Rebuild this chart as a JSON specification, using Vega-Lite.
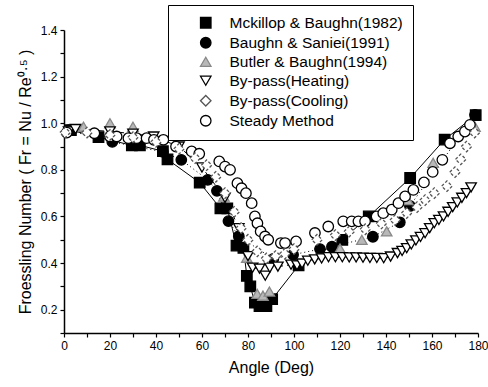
{
  "$schema": "https://vega.github.io/schema/vega-lite/v6.json",
  "width": 414,
  "height": 303,
  "autosize": "none",
  "padding": {"left": 64, "top": 30, "right": 10, "bottom": 54},
  "background": "white",
  "config": {
    "view": {"stroke": null},
    "font": "Liberation Sans",
    "axis": {"grid": false, "domainColor": "black", "tickColor": "black", "labelColor": "black", "titleColor": "black", "labelFont": "Liberation Sans", "titleFont": "Liberation Sans", "titleFontWeight": "normal", "domainWidth": 1.5, "tickWidth": 1.2},
    "legend": {"labelFontSize": 15.5, "labelColor": "black"}
  },
  "datasets": {
    "pts": [
      {"s": "Mckillop & Baughn(1982)", "x": 3, "y": 0.97},
      {"s": "Mckillop & Baughn(1982)", "x": 15, "y": 0.94},
      {"s": "Mckillop & Baughn(1982)", "x": 29.5, "y": 0.905},
      {"s": "Mckillop & Baughn(1982)", "x": 33, "y": 0.905},
      {"s": "Mckillop & Baughn(1982)", "x": 43, "y": 0.88},
      {"s": "Mckillop & Baughn(1982)", "x": 45, "y": 0.845},
      {"s": "Mckillop & Baughn(1982)", "x": 59, "y": 0.745},
      {"s": "Mckillop & Baughn(1982)", "x": 68, "y": 0.635},
      {"s": "Mckillop & Baughn(1982)", "x": 71, "y": 0.635},
      {"s": "Mckillop & Baughn(1982)", "x": 75, "y": 0.475},
      {"s": "Mckillop & Baughn(1982)", "x": 78, "y": 0.465},
      {"s": "Mckillop & Baughn(1982)", "x": 79.5, "y": 0.345},
      {"s": "Mckillop & Baughn(1982)", "x": 81, "y": 0.3},
      {"s": "Mckillop & Baughn(1982)", "x": 83, "y": 0.23},
      {"s": "Mckillop & Baughn(1982)", "x": 85, "y": 0.215},
      {"s": "Mckillop & Baughn(1982)", "x": 88, "y": 0.215},
      {"s": "Mckillop & Baughn(1982)", "x": 90.5, "y": 0.245},
      {"s": "Mckillop & Baughn(1982)", "x": 102, "y": 0.39},
      {"s": "Mckillop & Baughn(1982)", "x": 121, "y": 0.5},
      {"s": "Mckillop & Baughn(1982)", "x": 132.5, "y": 0.6},
      {"s": "Mckillop & Baughn(1982)", "x": 150.5, "y": 0.765},
      {"s": "Mckillop & Baughn(1982)", "x": 165.5, "y": 0.93},
      {"s": "Mckillop & Baughn(1982)", "x": 179, "y": 1.035},

      {"s": "Baughn & Saniei(1991)", "x": 2, "y": 0.97},
      {"s": "Baughn & Saniei(1991)", "x": 21, "y": 0.92},
      {"s": "Baughn & Saniei(1991)", "x": 43, "y": 0.877},
      {"s": "Baughn & Saniei(1991)", "x": 51, "y": 0.843},
      {"s": "Baughn & Saniei(1991)", "x": 62.5, "y": 0.757},
      {"s": "Baughn & Saniei(1991)", "x": 66.5, "y": 0.71},
      {"s": "Baughn & Saniei(1991)", "x": 71.5, "y": 0.58},
      {"s": "Baughn & Saniei(1991)", "x": 76, "y": 0.515},
      {"s": "Baughn & Saniei(1991)", "x": 91, "y": 0.418},
      {"s": "Baughn & Saniei(1991)", "x": 99.6, "y": 0.436},
      {"s": "Baughn & Saniei(1991)", "x": 111.3, "y": 0.46},
      {"s": "Baughn & Saniei(1991)", "x": 116.5, "y": 0.47},
      {"s": "Baughn & Saniei(1991)", "x": 134.3, "y": 0.513},
      {"s": "Baughn & Saniei(1991)", "x": 146, "y": 0.575},
      {"s": "Baughn & Saniei(1991)", "x": 150.4, "y": 0.645},
      {"s": "Baughn & Saniei(1991)", "x": 178.7, "y": 1.036},

      {"s": "Butler & Baughn(1994)", "x": 8.5, "y": 0.985},
      {"s": "Butler & Baughn(1994)", "x": 20, "y": 1.0},
      {"s": "Butler & Baughn(1994)", "x": 30, "y": 0.985},
      {"s": "Butler & Baughn(1994)", "x": 69.5, "y": 0.685},
      {"s": "Butler & Baughn(1994)", "x": 79.5, "y": 0.423},
      {"s": "Butler & Baughn(1994)", "x": 84, "y": 0.268},
      {"s": "Butler & Baughn(1994)", "x": 86.5, "y": 0.26},
      {"s": "Butler & Baughn(1994)", "x": 89.3, "y": 0.278},
      {"s": "Butler & Baughn(1994)", "x": 120, "y": 0.462},
      {"s": "Butler & Baughn(1994)", "x": 129.5, "y": 0.5},
      {"s": "Butler & Baughn(1994)", "x": 140.3, "y": 0.536},
      {"s": "Butler & Baughn(1994)", "x": 149.5, "y": 0.67},
      {"s": "Butler & Baughn(1994)", "x": 160.5, "y": 0.83},
      {"s": "Butler & Baughn(1994)", "x": 178.7, "y": 0.985},

      {"s": "By-pass(Heating)", "x": 2, "y": 0.965},
      {"s": "By-pass(Heating)", "x": 5, "y": 0.975},
      {"s": "By-pass(Heating)", "x": 20, "y": 0.965},
      {"s": "By-pass(Heating)", "x": 30, "y": 0.955},
      {"s": "By-pass(Heating)", "x": 39, "y": 0.943},
      {"s": "By-pass(Heating)", "x": 50, "y": 0.9},
      {"s": "By-pass(Heating)", "x": 60, "y": 0.81},
      {"s": "By-pass(Heating)", "x": 70, "y": 0.68},
      {"s": "By-pass(Heating)", "x": 76, "y": 0.55},
      {"s": "By-pass(Heating)", "x": 80, "y": 0.43},
      {"s": "By-pass(Heating)", "x": 82, "y": 0.38},
      {"s": "By-pass(Heating)", "x": 85, "y": 0.376},
      {"s": "By-pass(Heating)", "x": 87.5, "y": 0.346},
      {"s": "By-pass(Heating)", "x": 89.5, "y": 0.38},
      {"s": "By-pass(Heating)", "x": 93, "y": 0.385},
      {"s": "By-pass(Heating)", "x": 98.7, "y": 0.393},
      {"s": "By-pass(Heating)", "x": 101.3, "y": 0.39},
      {"s": "By-pass(Heating)", "x": 103.5, "y": 0.398},
      {"s": "By-pass(Heating)", "x": 106, "y": 0.41},
      {"s": "By-pass(Heating)", "x": 109, "y": 0.416},
      {"s": "By-pass(Heating)", "x": 112, "y": 0.42},
      {"s": "By-pass(Heating)", "x": 115, "y": 0.425},
      {"s": "By-pass(Heating)", "x": 118, "y": 0.425},
      {"s": "By-pass(Heating)", "x": 121, "y": 0.425},
      {"s": "By-pass(Heating)", "x": 124, "y": 0.424},
      {"s": "By-pass(Heating)", "x": 127, "y": 0.424},
      {"s": "By-pass(Heating)", "x": 130, "y": 0.423},
      {"s": "By-pass(Heating)", "x": 133, "y": 0.422},
      {"s": "By-pass(Heating)", "x": 136, "y": 0.422},
      {"s": "By-pass(Heating)", "x": 139, "y": 0.421},
      {"s": "By-pass(Heating)", "x": 142, "y": 0.428},
      {"s": "By-pass(Heating)", "x": 145, "y": 0.443},
      {"s": "By-pass(Heating)", "x": 147, "y": 0.452},
      {"s": "By-pass(Heating)", "x": 149, "y": 0.464},
      {"s": "By-pass(Heating)", "x": 151, "y": 0.48},
      {"s": "By-pass(Heating)", "x": 153, "y": 0.497},
      {"s": "By-pass(Heating)", "x": 155, "y": 0.512},
      {"s": "By-pass(Heating)", "x": 157, "y": 0.528},
      {"s": "By-pass(Heating)", "x": 159, "y": 0.55},
      {"s": "By-pass(Heating)", "x": 161, "y": 0.571},
      {"s": "By-pass(Heating)", "x": 163, "y": 0.585},
      {"s": "By-pass(Heating)", "x": 165, "y": 0.6},
      {"s": "By-pass(Heating)", "x": 167, "y": 0.62},
      {"s": "By-pass(Heating)", "x": 169, "y": 0.64},
      {"s": "By-pass(Heating)", "x": 171, "y": 0.66},
      {"s": "By-pass(Heating)", "x": 173, "y": 0.68},
      {"s": "By-pass(Heating)", "x": 175, "y": 0.7},
      {"s": "By-pass(Heating)", "x": 177, "y": 0.725},

      {"s": "By-pass(Cooling)", "x": 0.5, "y": 0.96},
      {"s": "By-pass(Cooling)", "x": 10, "y": 0.96},
      {"s": "By-pass(Cooling)", "x": 20, "y": 0.95},
      {"s": "By-pass(Cooling)", "x": 30, "y": 0.94},
      {"s": "By-pass(Cooling)", "x": 40, "y": 0.92},
      {"s": "By-pass(Cooling)", "x": 50, "y": 0.89},
      {"s": "By-pass(Cooling)", "x": 57, "y": 0.85},
      {"s": "By-pass(Cooling)", "x": 62, "y": 0.82},
      {"s": "By-pass(Cooling)", "x": 66, "y": 0.77},
      {"s": "By-pass(Cooling)", "x": 70, "y": 0.7},
      {"s": "By-pass(Cooling)", "x": 74, "y": 0.62},
      {"s": "By-pass(Cooling)", "x": 77, "y": 0.55},
      {"s": "By-pass(Cooling)", "x": 80, "y": 0.5},
      {"s": "By-pass(Cooling)", "x": 84, "y": 0.45},
      {"s": "By-pass(Cooling)", "x": 88, "y": 0.42},
      {"s": "By-pass(Cooling)", "x": 92, "y": 0.43},
      {"s": "By-pass(Cooling)", "x": 96, "y": 0.44},
      {"s": "By-pass(Cooling)", "x": 100, "y": 0.46},
      {"s": "By-pass(Cooling)", "x": 110, "y": 0.5},
      {"s": "By-pass(Cooling)", "x": 118, "y": 0.52},
      {"s": "By-pass(Cooling)", "x": 124, "y": 0.535},
      {"s": "By-pass(Cooling)", "x": 131, "y": 0.545},
      {"s": "By-pass(Cooling)", "x": 138, "y": 0.57},
      {"s": "By-pass(Cooling)", "x": 144, "y": 0.585},
      {"s": "By-pass(Cooling)", "x": 149, "y": 0.615},
      {"s": "By-pass(Cooling)", "x": 153.5, "y": 0.64},
      {"s": "By-pass(Cooling)", "x": 157, "y": 0.67},
      {"s": "By-pass(Cooling)", "x": 161, "y": 0.7},
      {"s": "By-pass(Cooling)", "x": 166.5, "y": 0.73},
      {"s": "By-pass(Cooling)", "x": 170, "y": 0.79},
      {"s": "By-pass(Cooling)", "x": 172.5, "y": 0.845},
      {"s": "By-pass(Cooling)", "x": 175, "y": 0.9},
      {"s": "By-pass(Cooling)", "x": 178.5, "y": 0.96},

      {"s": "Steady Method", "x": 1.2, "y": 0.96},
      {"s": "Steady Method", "x": 13.2, "y": 0.957},
      {"s": "Steady Method", "x": 20, "y": 0.943},
      {"s": "Steady Method", "x": 22.9, "y": 0.943},
      {"s": "Steady Method", "x": 28, "y": 0.936},
      {"s": "Steady Method", "x": 31.6, "y": 0.936},
      {"s": "Steady Method", "x": 35.9, "y": 0.936},
      {"s": "Steady Method", "x": 39.1, "y": 0.929},
      {"s": "Steady Method", "x": 43.2, "y": 0.929},
      {"s": "Steady Method", "x": 48.7, "y": 0.9},
      {"s": "Steady Method", "x": 55.5, "y": 0.879},
      {"s": "Steady Method", "x": 58.8, "y": 0.869},
      {"s": "Steady Method", "x": 67.5, "y": 0.836},
      {"s": "Steady Method", "x": 70, "y": 0.814},
      {"s": "Steady Method", "x": 72.2, "y": 0.8},
      {"s": "Steady Method", "x": 75.4, "y": 0.743},
      {"s": "Steady Method", "x": 77.2, "y": 0.721},
      {"s": "Steady Method", "x": 79.1, "y": 0.7},
      {"s": "Steady Method", "x": 81.6, "y": 0.657},
      {"s": "Steady Method", "x": 83, "y": 0.6},
      {"s": "Steady Method", "x": 84.1, "y": 0.571},
      {"s": "Steady Method", "x": 85.5, "y": 0.536},
      {"s": "Steady Method", "x": 87.4, "y": 0.514},
      {"s": "Steady Method", "x": 88.8, "y": 0.5},
      {"s": "Steady Method", "x": 94.3, "y": 0.486},
      {"s": "Steady Method", "x": 96.1, "y": 0.486},
      {"s": "Steady Method", "x": 100.9, "y": 0.493},
      {"s": "Steady Method", "x": 109.1, "y": 0.529},
      {"s": "Steady Method", "x": 114.9, "y": 0.557},
      {"s": "Steady Method", "x": 121.4, "y": 0.579},
      {"s": "Steady Method", "x": 125.1, "y": 0.579},
      {"s": "Steady Method", "x": 128, "y": 0.579},
      {"s": "Steady Method", "x": 130.9, "y": 0.579},
      {"s": "Steady Method", "x": 135.9, "y": 0.6},
      {"s": "Steady Method", "x": 138.8, "y": 0.614},
      {"s": "Steady Method", "x": 142.5, "y": 0.629},
      {"s": "Steady Method", "x": 145.4, "y": 0.657},
      {"s": "Steady Method", "x": 148.3, "y": 0.686},
      {"s": "Steady Method", "x": 151.9, "y": 0.714},
      {"s": "Steady Method", "x": 156.5, "y": 0.746},
      {"s": "Steady Method", "x": 160.3, "y": 0.791},
      {"s": "Steady Method", "x": 164.5, "y": 0.843},
      {"s": "Steady Method", "x": 167.8, "y": 0.914},
      {"s": "Steady Method", "x": 171.4, "y": 0.943},
      {"s": "Steady Method", "x": 174.3, "y": 0.964},
      {"s": "Steady Method", "x": 176.5, "y": 0.993}
    ]
  },
  "data": {"name": "pts"},
  "encoding": {
    "x": {"field": "x", "type": "quantitative", "scale": {"domain": [0, 180], "nice": false, "zero": false},
      "axis": {"title": "Angle (Deg)", "values": [0,10,20,30,40,50,60,70,80,90,100,110,120,130,140,150,160,170,180], "labelExpr": "datum.value % 20 == 0 ? datum.label : ''", "labelFontSize": 12, "titleFontSize": 16, "tickSize": 4, "labelPadding": 3, "titlePadding": 8, "labelFlush": false}},
    "y": {"field": "y", "type": "quantitative", "scale": {"domain": [0.1, 1.4], "nice": false, "zero": false},
      "axis": {"title": "Froessling Number ( Fr = Nu / Re⁰·⁵ )", "values": [0.1,0.2,0.3,0.4,0.5,0.6,0.7,0.8,0.9,1.0,1.1,1.2,1.3,1.4], "labelExpr": "round(datum.value*10) % 2 == 0 ? format(datum.value, '.1f') : ''", "labelFontSize": 12, "titleFontSize": 16, "tickSize": 4, "labelPadding": 3, "titlePadding": 7, "labelFlush": false}},
    "shape": {"field": "s", "type": "nominal", "title": null,
      "scale": {"domain": ["Mckillop & Baughn(1982)", "Baughn & Saniei(1991)", "Butler & Baughn(1994)", "By-pass(Heating)", "By-pass(Cooling)", "Steady Method"],
        "range": ["square", "circle", "triangle-up", "triangle-down", "diamond", "circle"]},
      "legend": {"orient": "none", "legendX": 104, "legendY": -25, "strokeColor": "black", "fillColor": "white", "padding": 10, "labelFontSize": 15.5, "labelColor": "black", "labelLimit": 400, "symbolSize": 110, "symbolStrokeWidth": 1.3, "rowPadding": 2, "symbolOffset": 20, "labelOffset": 16,
        "encode": {"labels": {"update": {"fontSize": {"value": 15.5}, "fill": {"value": "black"}}}}}},
    "fill": {"field": "s", "type": "nominal", "title": null,
      "scale": {"domain": ["Mckillop & Baughn(1982)", "Baughn & Saniei(1991)", "Butler & Baughn(1994)", "By-pass(Heating)", "By-pass(Cooling)", "Steady Method"],
        "range": ["black", "black", "#b8b8b8", "white", "white", "white"]}},
    "stroke": {"field": "s", "type": "nominal", "title": null,
      "scale": {"domain": ["Mckillop & Baughn(1982)", "Baughn & Saniei(1991)", "Butler & Baughn(1994)", "By-pass(Heating)", "By-pass(Cooling)", "Steady Method"],
        "range": ["black", "black", "#888888", "black", "#555555", "black"]}}
  },
  "layer": [
    {
      "transform": [{"filter": "datum.s == 'Mckillop & Baughn(1982)'"}],
      "mark": {"type": "line", "stroke": "black", "strokeWidth": 1},
      "encoding": {"shape": null, "fill": null, "stroke": null}
    },
    {
      "transform": [{"filter": "datum.s == 'Baughn & Saniei(1991)'"}],
      "mark": {"type": "line", "stroke": "black", "strokeWidth": 1, "strokeDash": [1, 3]},
      "encoding": {"shape": null, "fill": null, "stroke": null}
    },
    {
      "transform": [{"filter": "datum.s == 'By-pass(Heating)'"}],
      "mark": {"type": "line", "stroke": "black", "strokeWidth": 1, "strokeDash": [6, 4]},
      "encoding": {"shape": null, "fill": null, "stroke": null}
    },
    {
      "transform": [{"filter": "datum.s != 'By-pass(Cooling)'"}],
      "mark": {"type": "point", "size": 110, "strokeWidth": 1.3, "opacity": 1}
    },
    {
      "transform": [{"filter": "datum.s == 'By-pass(Cooling)'"}],
      "mark": {"type": "point", "size": 110, "strokeWidth": 1.3, "opacity": 1, "strokeDash": [3, 2]}
    }
  ]
}
